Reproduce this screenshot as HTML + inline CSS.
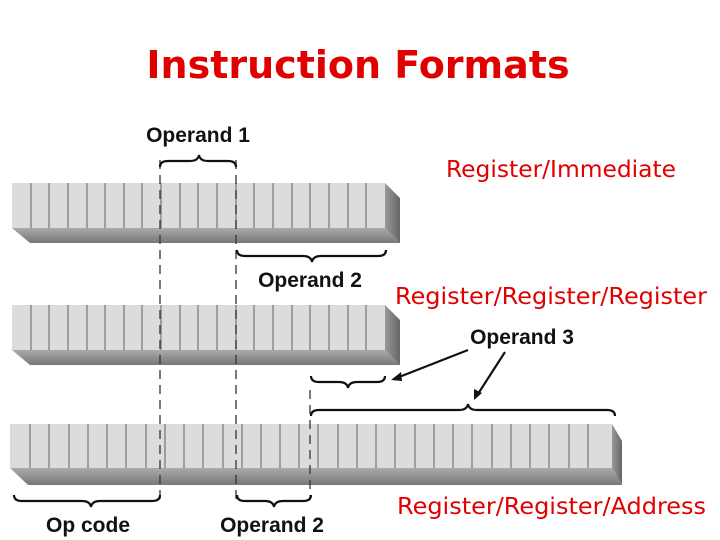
<!DOCTYPE html>
<html><head><meta charset="utf-8"><style>
html,body{margin:0;padding:0;background:#fff}
svg{display:block}
.t{font-family:"DejaVu Sans","Liberation Sans",sans-serif;fill:#e00000}
.l{font-family:"Liberation Sans",sans-serif;font-weight:bold;fill:#111}
</style></head><body>
<svg width="720" height="540" viewBox="0 0 720 540" xmlns="http://www.w3.org/2000/svg">
<defs>
<linearGradient id="sh" x1="0" y1="0" x2="0" y2="1"><stop offset="0" stop-color="#aaa"/><stop offset="1" stop-color="#777"/></linearGradient>
<linearGradient id="sd" x1="0" y1="0" x2="1" y2="0"><stop offset="0" stop-color="#999"/><stop offset="1" stop-color="#666"/></linearGradient>
</defs>
<text x="358" y="78" text-anchor="middle" class="t" font-size="38" font-weight="bold">Instruction Formats</text>

<polygon points="12,228 385,228 400,243 30,243" fill="url(#sh)"/>
<polygon points="385,183 400,198 400,243 385,228" fill="url(#sd)"/>
<rect x="12" y="183" width="373" height="45" fill="#dcdcdc"/>
<polygon points="12,350 385,350 400,365 30,365" fill="url(#sh)"/>
<polygon points="385,305 400,320 400,365 385,350" fill="url(#sd)"/>
<rect x="12" y="305" width="373" height="45" fill="#dcdcdc"/>
<polygon points="10,468 612,468 622,485 28,485" fill="url(#sh)"/>
<polygon points="612,424 622,441 622,485 612,468" fill="url(#sd)"/>
<rect x="10" y="424" width="602" height="44" fill="#dcdcdc"/>
<g stroke="#8a8a8a" stroke-width="1.5">
<path d="M31 183V228M49 183V228M68 183V228M87 183V228M105 183V228M124 183V228M142 183V228M161 183V228M180 183V228M198 183V228M217 183V228M236 183V228M254 183V228M273 183V228M292 183V228M310 183V228M329 183V228M348 183V228M366 183V228"/>
<path d="M31 305V350M49 305V350M68 305V350M87 305V350M105 305V350M124 305V350M142 305V350M161 305V350M180 305V350M198 305V350M217 305V350M236 305V350M254 305V350M273 305V350M292 305V350M310 305V350M329 305V350M348 305V350M366 305V350"/>
<path d="M30 424V468M49 424V468M69 424V468M88 424V468M107 424V468M126 424V468M146 424V468M165 424V468M184 424V468M203 424V468M223 424V468M242 424V468M261 424V468M280 424V468M299 424V468M318 424V468M338 424V468M357 424V468M376 424V468M395 424V468M415 424V468M434 424V468M453 424V468M472 424V468M492 424V468M511 424V468M530 424V468M549 424V468M569 424V468M588 424V468"/>
</g>
<g stroke="#333" stroke-width="1.3" stroke-dasharray="9,6" fill="none">
<path d="M160 160V500M236 160V500M310 390V500"/>
</g>
<g stroke="#111" stroke-width="2.2" fill="none">
<path d="M160 167q0-6 8-6h22q8 0 9-6q1 6 9 6h20q8 0 8 6"/>
<path d="M237 250q0 6 8 6h58q8 0 9 6q1-6 9-6h57q8 0 8-6"/>
<path d="M311 376q0 6 8 6h20q8 0 9 6q1-6 9-6h20q8 0 8-6"/>
<path d="M311 416q0-6 8-6h140q8 0 9-6q1 6 9 6h130q8 0 8 6"/>
<path d="M14 495q0 6 8 6h60q8 0 9 6q1-6 9-6h52q8 0 8-6"/>
<path d="M237 495q0 6 8 6h20q8 0 9 6q1-6 9-6h20q8 0 8-6"/>
<path d="M468 350L394 379M505 352L476 397"/>
</g>
<polygon points="391,380 401,372 402,381" fill="#111"/>
<polygon points="474,400 474,389 482,393" fill="#111"/>
<text x="198" y="142" text-anchor="middle" class="l" font-size="21">Operand 1</text>
<text x="310" y="287" text-anchor="middle" class="l" font-size="21">Operand 2</text>
<text x="522" y="344" text-anchor="middle" class="l" font-size="21">Operand 3</text>
<text x="88" y="532" text-anchor="middle" class="l" font-size="21">Op code</text>
<text x="272" y="532" text-anchor="middle" class="l" font-size="21">Operand 2</text>
<text x="446" y="177" class="t" font-size="23" textLength="230" lengthAdjust="spacingAndGlyphs">Register/Immediate</text>
<text x="395" y="304" class="t" font-size="23" textLength="312" lengthAdjust="spacingAndGlyphs">Register/Register/Register</text>
<text x="397" y="514" class="t" font-size="23" textLength="309" lengthAdjust="spacingAndGlyphs">Register/Register/Address</text>
</svg>
</body></html>
